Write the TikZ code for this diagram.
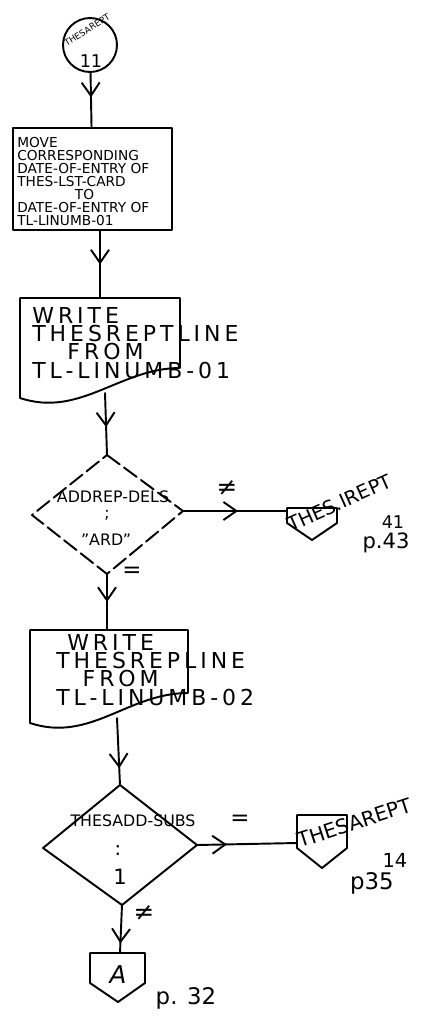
\documentclass[tikz,border=0pt]{standalone}
\usepackage{fontspec}
\setmainfont{DejaVu Sans}
\usetikzlibrary{arrows.meta,decorations.markings}

\begin{document}
\begin{tikzpicture}[x=0.02cm,y=-0.02cm,line cap=round,line join=round,
    shape line/.style={line width=1.1pt},
    flow/.style={line width=1.1pt,postaction={decorate},
      decoration={markings,mark=at position #1 with {\arrow{Straight Barb[length=2.6mm,width=3.6mm,line width=1.1pt]}}}},
    flow/.default=.5,
    hand/.style={inner sep=0pt,font=\fontsize{#1}{#1}\selectfont},
    hand/.default=9,
    wide/.style={anchor=north west,inner sep=0pt,align=left,
      font=\fontsize{12.5}{10.4}\selectfont\addfontfeature{LetterSpace=18}}]
  \useasboundingbox (0,0) rectangle (446,1019);

  \node[draw,shape line,circle,minimum size=1.08cm] (thes11) at (90,45) {};
  \node[hand=5,rotate=32] (thes11t) at (87,30) {THESAREPT};
  \node[hand=10] (thes11n) at (91,61) {11};

  \node[draw,shape line,minimum width=3.18cm,minimum height=2.04cm] (movecorr) at (92.5,179) {};
  \node[anchor=north west,inner sep=0pt,align=left,font=\fontsize{7.8}{7.4}\selectfont] (movetxt) at (17,137)
    {MOVE\\CORRESPONDING\\DATE-OF-ENTRY OF\\THES-LST-CARD\\
     \hspace{4.2em}TO\\DATE-OF-ENTRY OF\\TL-LINUMB-01};

  \coordinate (w1in) at (100,298); \coordinate (w1out) at (105,393);
  \draw[shape line] (180,368) -- (180,298) -- (20,298) -- (20,398)
    .. controls (80,418) and (120,368) .. (180,368);
  \node[wide] (w1txt) at (32,307)
    {WRITE\\THESREPTLINE\\\hspace{1.6em}FROM\\TL-LINUMB-01};

  \coordinate (d1t) at (107,455); \coordinate (d1r) at (183,511);
  \coordinate (d1b) at (107,574); \coordinate (d1l) at (32,515);
  \draw[shape line,dash pattern=on 9pt off 3pt] (d1t) -- (d1r) -- (d1b) -- (d1l) -- cycle;
  \node[hand=9] (d1a) at (113,497) {ADDREP-DELS};
  \node[hand=9] (d1s) at (107,515) {;};
  \node[hand=9] (d1c) at (106,540) {"ARD"};

  \coordinate (p1l) at (287,511);
  \draw[shape line] (287,508) -- (337,508) -- (337,523) -- (312,540) -- (287,523) -- cycle;
  \node[hand=11,rotate=24,anchor=base west] (p1t) at (291,532) {THES.IREPT};
  \node[hand=10] (p1n) at (393,522) {41};
  \node[hand=12] (p1p) at (386,543) {p.43};

  \coordinate (w2in) at (107,630); \coordinate (w2out) at (117,718);
  \draw[shape line] (188,693) -- (188,630) -- (30,630) -- (30,723)
    .. controls (90,743) and (128,693) .. (188,693);
  \node[wide] (w2txt) at (56,634)
    {\hspace{0.5em}WRITE\\THESREPLINE\\\hspace{1.2em}FROM\\TL-LINUMB-02};

  \coordinate (d2t) at (120,785); \coordinate (d2r) at (197,845);
  \coordinate (d2b) at (122,905); \coordinate (d2l) at (43,848);
  \draw[shape line] (d2t) -- (d2r) -- (d2b) -- (d2l) -- cycle;
  \node[hand=9] (d2a) at (133,821) {THESADD-SUBS};
  \node[hand=11] (d2s) at (118,850) {:};
  \node[hand=12] (d2c) at (120,877) {1};

  \coordinate (p2l) at (297,843);
  \draw[shape line] (297,815) -- (347,815) -- (347,848) -- (322,868) -- (297,848) -- cycle;
  \node[hand=11.5,rotate=18,anchor=base west] (p2t) at (300,848) {THESAREPT};
  \node[hand=11] (p2n) at (395,860) {14};
  \node[hand=13] (p2p) at (372,883) {p35};

  \coordinate (p3t) at (120,953);
  \draw[shape line] (90,953) -- (145,953) -- (145,983) -- (118,1002) -- (90,983) -- cycle;
  \node[hand=14,font=\fontsize{14}{14}\itshape] (p3a) at (118,975) {A};
  \node[hand=13] (p3p) at (186,998) {p. 32};

  \draw[flow=.45] (thes11) -- (movecorr);
  \draw[flow] (movecorr.south -| w1in) -- (w1in);
  \draw[flow=.55] (w1out) -- (d1t);
  \draw[flow=.53] (d1r) -- (p1l);
  \draw[flow] (d1b) -- (w2in);
  \draw[flow=.75] (w2out) -- (d2t);
  \draw[flow=.3] (d2r) -- (p2l);
  \draw[flow=.8] (d2b) -- (p3t);

  \node[hand=14] (ne1) at (227,488) {≠};
  \node[hand=13] (eq1) at (132,572) {=};
  \node[hand=13] (eq2) at (240,820) {=};
  \node[hand=14] (ne2) at (144,913) {≠};
\end{tikzpicture}
\end{document}
